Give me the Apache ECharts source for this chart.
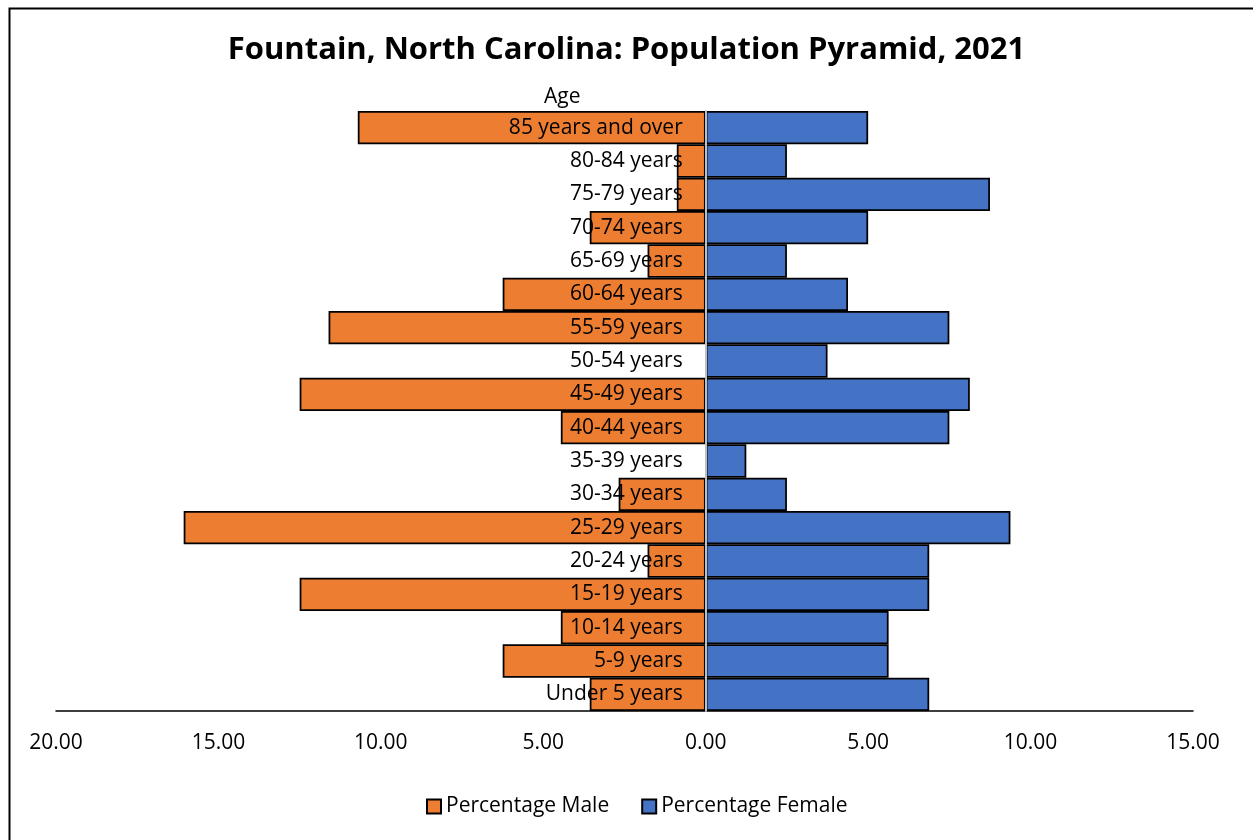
<!DOCTYPE html>
<html>
<head>
<meta charset="utf-8">
<script src="https://cdn.jsdelivr.net/npm/echarts@6/dist/echarts.min.js"></script>
<style>
  html, body { margin: 0; padding: 0; background: #ffffff; }
  #chart { width: 1253px; height: 840px; }
</style>
</head>
<body>
<div id="chart"></div>
<script>
// Age groups, listed bottom to top
const ageGroups = [
  'Under 5 years', '5-9 years', '10-14 years', '15-19 years', '20-24 years',
  '25-29 years', '30-34 years', '35-39 years', '40-44 years', '45-49 years',
  '50-54 years', '55-59 years', '60-64 years', '65-69 years', '70-74 years',
  '75-79 years', '80-84 years', '85 years and over'
];

// Share of each sex's population in each age group (%)
const percentMale = [
  3.57, 6.25, 4.46, 12.50, 1.79,
  16.07, 2.68, 0, 4.46, 12.50,
  0, 11.61, 6.25, 1.79, 3.57,
  0.89, 0.89, 10.71
];
const percentFemale = [
  6.88, 5.63, 5.63, 6.88, 6.88,
  9.38, 2.50, 1.25, 7.50, 8.13,
  3.75, 7.50, 4.38, 2.50, 5.00,
  8.75, 2.50, 5.00
];

const titleText = 'Fountain, North Carolina: Population Pyramid, 2021';
const axisTitle = 'Age';
const seriesNames = ['Percentage Male', 'Percentage Female'];

// Horizontal scale: male shares run left of zero, female shares right
const xMin = -20, xMax = 15, xStep = 5;

const FONT = 'Open Sans';
const W = 1253, H = 840;
const grid = { left: 56, right: 60, top: 111, bottom: 129 };
const plotWidth = W - grid.left - grid.right;
// Shift the category axis from the grid's left edge onto the zero line
const zeroOffset = plotWidth * (0 - xMin) / (xMax - xMin);

const chart = echarts.init(document.getElementById('chart'), null, { renderer: 'canvas' });

chart.setOption({
  backgroundColor: '#ffffff',
  animation: false,
  textStyle: { fontFamily: FONT, color: '#000000' },
  title: [
    {
      text: titleText,
      left: 'center',
      top: 30,
      textStyle: { fontFamily: FONT, fontSize: 31, fontWeight: 'bold', color: '#000000' }
    },
    {
      text: axisTitle,
      left: 539,
      top: 82,
      textStyle: { fontFamily: FONT, fontSize: 21, fontWeight: 'normal', color: '#000000' }
    }
  ],
  legend: {
    top: 791,
    left: 421,
    icon: 'rect',
    itemWidth: 14,
    itemHeight: 14,
    itemGap: 32,
    textStyle: { fontFamily: FONT, fontSize: 21, color: '#000000' },
    data: seriesNames
  },
  grid: {
    left: grid.left, right: grid.right, top: grid.top, bottom: grid.bottom,
    containLabel: false,
    outerBoundsMode: 'none'
  },
  xAxis: {
    type: 'value',
    min: xMin,
    max: xMax,
    interval: xStep,
    axisLine: { show: true, onZero: false, lineStyle: { color: '#000000', width: 1.5 } },
    axisTick: { show: false },
    splitLine: { show: false },
    axisLabel: {
      margin: 22,
      fontFamily: FONT,
      fontSize: 21,
      color: '#000000',
      formatter: v => Math.abs(v).toFixed(2)
    }
  },
  yAxis: {
    type: 'category',
    data: ageGroups,
    position: 'left',
    offset: -zeroOffset,
    z: 5,
    axisLine: { show: true, onZero: false, lineStyle: { color: '#bfbfbf', width: 2 } },
    axisTick: { show: false },
    splitLine: { show: false },
    axisLabel: {
      margin: 23,
      fontFamily: FONT,
      fontSize: 21,
      color: '#000000'
    }
  },
  series: [
    {
      name: seriesNames[0],
      type: 'bar',
      barGap: '-100%',
      barCategoryGap: '0%',
      data: percentMale.map(v => (v === 0 ? null : -v)),
      itemStyle: { color: '#ED7D31', borderColor: '#000000', borderWidth: 1.75 }
    },
    {
      name: seriesNames[1],
      type: 'bar',
      barGap: '-100%',
      barCategoryGap: '0%',
      data: percentFemale.map(v => (v === 0 ? null : v)),
      itemStyle: { color: '#4472C4', borderColor: '#000000', borderWidth: 1.75 }
    }
  ],
  graphic: [
    {
      type: 'rect',
      left: 7,
      top: 6,
      shape: { width: 1400, height: 1000 },
      style: { fill: 'none', stroke: '#000000', lineWidth: 2 },
      silent: true
    }
  ]
});
</script>
</body>
</html>
